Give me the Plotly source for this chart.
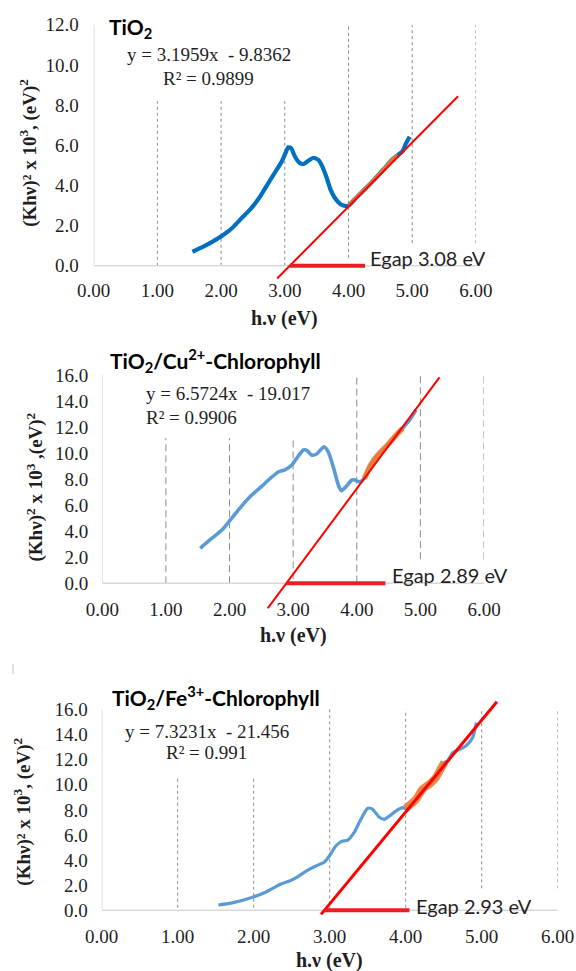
import plotly.graph_objects as go

W, H = 576, 971

# ---------------------------------------------------------------------------
# Tauc-plot data: photon energy h.v (eV) and (Khv)^2 x 10^3 (eV)^2
# ---------------------------------------------------------------------------
tio2_hv = [1.55, 1.72, 1.88, 2.01, 2.17, 2.32, 2.45, 2.61, 2.74, 2.87, 2.95, 3.02,
           3.055, 3.10, 3.16, 3.23, 3.29, 3.37, 3.45, 3.53, 3.59, 3.66, 3.72, 3.79,
           3.87, 3.945, 4.00, 4.13, 4.27, 4.40, 4.54, 4.69, 4.77, 4.85, 4.90, 4.96]
tio2_f = [0.70, 0.95, 1.23, 1.48, 1.87, 2.37, 2.78, 3.44, 4.11, 4.77, 5.18, 5.68,
          5.90, 5.85, 5.43, 5.13, 5.07, 5.23, 5.38, 5.27, 4.94, 4.36, 3.78, 3.36,
          3.08, 2.98, 3.00, 3.42, 3.86, 4.28, 4.77, 5.30, 5.50, 5.72, 6.08, 6.43]

cu_hv = [1.54, 1.69, 1.88, 2.01, 2.16, 2.32, 2.50, 2.64, 2.77, 2.87, 2.98, 3.055,
         3.16, 3.22, 3.29, 3.37, 3.485, 3.55, 3.63, 3.71, 3.76, 3.84, 3.92, 3.96,
         4.04, 4.12, 4.22, 4.33, 4.46, 4.62, 4.72, 4.83, 4.93]
cu_f = [2.69, 3.33, 4.09, 4.86, 5.76, 6.65, 7.42, 8.06, 8.57, 8.72, 9.09, 9.60,
        10.24, 10.19, 9.85, 9.93, 10.49, 10.11, 8.96, 7.55, 7.11, 7.47, 7.93, 7.95,
        7.80, 8.06, 9.09, 9.85, 10.49, 11.39, 11.90, 12.54, 13.31]

fe_hv = [1.535, 1.73, 1.995, 2.17, 2.35, 2.48, 2.56, 2.69, 2.82, 2.93, 2.995, 3.08,
         3.15, 3.24, 3.32, 3.41, 3.50, 3.565, 3.645, 3.72, 3.785, 3.87, 3.96, 4.00,
         4.135, 4.22, 4.31, 4.40, 4.46, 4.51, 4.55, 4.62, 4.68, 4.79, 4.88, 4.93]
fe_f = [0.42, 0.61, 1.06, 1.48, 2.07, 2.35, 2.60, 3.13, 3.53, 3.85, 4.33, 5.12,
        5.47, 5.60, 6.18, 7.25, 8.13, 8.05, 7.46, 7.25, 7.51, 7.91, 8.18, 8.10,
        8.84, 9.64, 10.04, 10.60, 11.26, 11.79, 11.90, 12.56, 12.75, 13.10, 13.75, 14.95]

# Linear fits of the absorption edge and the resulting band gaps
fit_slope = [3.1959, 6.5724, 7.3231]
fit_intercept = [-9.8362, -19.017, -21.456]
fit_r2 = ["0.9899", "0.9906", "0.991"]
egap_ev = [3.08, 2.89, 2.93]

# hv range of the points used for each fit
fit_lo = [3.99, 4.10, 4.00]
fit_hi = [4.78, 4.73, 4.52]

x_tick_vals = [0, 1, 2, 3, 4, 5, 6]
y_ticks_12 = [0, 2, 4, 6, 8, 10, 12]
y_ticks_16 = [0, 2, 4, 6, 8, 10, 12, 14, 16]

SERIF = "Liberation Serif"
SANS = "Lato"
TXT = "#1f1f1f"
AXIS_GREY = "#D9D9D9"
GRID_GREY = "#8C8C8C"
RED = "#FF0000"
ORANGE = "#ED7D31"

# Per-panel geometry (pixels) and styling
panels = [
    dict(hv=tio2_hv, f=tio2_f, yt=y_ticks_12,
         left=93.7, right=475.9, y0=265.8, ytop=24.8, ymin=-0.75, ymax=12.0,
         blue="#0070C0", blue_w=4.2, orange_w=3.5, red_w=2.0,
         tan=(2.88, 5.72), seg_end=4.26, xstand=-4, ystand=14,
         grid=[(1, 0, 8.2), (2, 0, 8.2), (3, 0, 8.2), (4, 0.4, 12), (5, 1.13, 12), (6, 1.13, 12)],
         dash="3px,3px",
         title="<b>TiO<sub>2</sub></b>", title_xy=(106.7, 28.3),
         eq_xy=(208.5, 54.3), r2_xy=(208.5, 78.3), eq_anchor="center",
         egap_xy=(368.3, 257.7), xt_xy=(284.0, 318.3), yt_xy=(28.3, 152.5),
         ytitle="<b>(Khν)² x 10<sup>3</sup>, (eV)<sup>2</sup></b>"),
    dict(hv=cu_hv, f=cu_f, yt=y_ticks_16,
         left=102.3, right=484.0, y0=583.3, ytop=375.0, ymin=-1.95, ymax=16.0,
         blue="#5B9BD5", blue_w=3.6, orange_w=5.5, red_w=2.0,
         tan=(2.60, 5.30), seg_end=4.45, xstand=-13, ystand=13,
         grid=[(1, 0, 11.15), (2, 0, 11.15), (3, 0.3, 11.15), (4, 0.05, 16), (5, 1.85, 16), (6, 1.85, 16)],
         dash="7px,4px",
         title="<b>TiO<sub>2</sub>/Cu<sup>2+</sup>-Chlorophyll</b>", title_xy=(108.3, 360.0),
         eq_xy=(144.3, 393.3), r2_xy=(144.3, 417.3), eq_anchor="left",
         egap_xy=(390.0, 575.0), xt_xy=(293.0, 635.0), yt_xy=(35.0, 487.5),
         ytitle="<b>(Khν)<sup>2</sup> x 10<sup>3</sup> ,(eV)<sup>2</sup></b>"),
    dict(hv=fe_hv, f=fe_f, yt=y_ticks_16,
         left=101.7, right=557.7, y0=910.3, ytop=709.5, ymin=-0.4, ymax=16.8,
         blue="#5B9BD5", blue_w=3.2, orange_w=8.0, red_w=3.0,
         tan=(2.886, 5.20), seg_end=4.05, xstand=8, ystand=13,
         grid=[(1, 0.2, 10.63), (2, 0.2, 10.63), (3, 0, 16), (4, 0.2, 16), (5, 1.75, 16), (6, 1.75, 16)],
         dash="3px,3px",
         title="<b>TiO<sub>2</sub>/Fe<sup>3+</sup>-Chlorophyll</b>", title_xy=(110.0, 697.7),
         eq_xy=(206.7, 731.0), r2_xy=(206.7, 752.7), eq_anchor="center",
         egap_xy=(413.7, 906.0), xt_xy=(329.7, 960.0), yt_xy=(21.7, 812.0),
         ytitle="<b>(Khν)² x 10<sup>3</sup>, (eV)<sup>2</sup></b>"),
]


def px(x):
    return x / W


def py(y):
    return 1 - y / H


fig = go.Figure()
layout = dict(width=W, height=H, margin=dict(l=0, r=0, t=0, b=0, pad=0),
              paper_bgcolor="white", plot_bgcolor="white", showlegend=False)
shapes = []
annotations = []

for i, p in enumerate(panels):
    n = "" if i == 0 else str(i + 1)
    xref, yref = "x" + n, "y" + n
    ymax_tick = p["yt"][-1]
    ppu = (p["y0"] - p["ytop"]) / ymax_tick
    bot_px = p["y0"] - p["ymin"] * ppu
    top_px = p["y0"] - p["ymax"] * ppu

    layout["xaxis" + n] = dict(
        domain=[px(p["left"]), px(p["right"])], range=[0, 6], anchor=yref,
        automargin=False,
        showgrid=False, zeroline=False, showline=False, ticks="",
        tickvals=x_tick_vals, tickformat=".2f", ticklabelstandoff=p["xstand"],
        tickfont=dict(family=SERIF, size=19, color=TXT), fixedrange=True)
    layout["yaxis" + n] = dict(
        domain=[py(bot_px), py(top_px)], range=[p["ymin"], p["ymax"]], anchor=xref,
        automargin=False,
        showgrid=False, zeroline=False, showline=False, ticks="",
        tickvals=p["yt"], tickformat=".1f", ticklabelstandoff=p["ystand"],
        tickfont=dict(family=SERIF, size=19, color=TXT), fixedrange=True)

    # dashed vertical gridlines
    for gx, g0, g1 in p["grid"]:
        shapes.append(dict(type="line", xref=xref, yref=yref, x0=gx, x1=gx, y0=g0, y1=g1,
                           line=dict(color=GRID_GREY, width=1, dash=p["dash"]), layer="below"))
    # axis lines
    shapes.append(dict(type="line", xref=xref, yref=yref, x0=0, x1=0, y0=0, y1=ymax_tick,
                       line=dict(color=AXIS_GREY, width=1.5), layer="below"))
    shapes.append(dict(type="line", xref=xref, yref=yref, x0=0, x1=6, y0=0, y1=0,
                       line=dict(color=AXIS_GREY, width=1.5), layer="below"))

    # measured curve
    fig.add_trace(go.Scatter(x=p["hv"], y=p["f"], mode="lines", xaxis=xref, yaxis=yref,
                             line=dict(color=p["blue"], width=p["blue_w"], shape="spline",
                                       smoothing=0.6),
                             hoverinfo="skip"))
    # points used for the linear fit
    fx = [x for x in p["hv"] if fit_lo[i] <= x <= fit_hi[i]]
    fy = [y for x, y in zip(p["hv"], p["f"]) if fit_lo[i] <= x <= fit_hi[i]]
    fig.add_trace(go.Scatter(x=fx, y=fy, mode="lines", xaxis=xref, yaxis=yref,
                             line=dict(color=ORANGE, width=p["orange_w"], shape="spline",
                                       smoothing=0.6),
                             opacity=0.9, hoverinfo="skip"))
    # extrapolated fit line
    tx = list(p["tan"])
    ty = [fit_slope[i] * x + fit_intercept[i] for x in tx]
    fig.add_trace(go.Scatter(x=tx, y=ty, mode="lines", xaxis=xref, yaxis=yref,
                             line=dict(color=RED, width=p["red_w"]), hoverinfo="skip"))
    # band-gap marker along the energy axis
    fig.add_trace(go.Scatter(x=[egap_ev[i], p["seg_end"]], y=[0, 0], mode="lines",
                             xaxis=xref, yaxis=yref,
                             line=dict(color="#EE1C25", width=4), hoverinfo="skip"))

    # text
    annotations.append(dict(text=p["title"], x=px(p["title_xy"][0]), y=py(p["title_xy"][1]),
                            xref="paper", yref="paper", xanchor="left", yanchor="middle",
                            showarrow=False, font=dict(family=SANS, size=21, color="black")))
    b = fit_intercept[i]
    eq = f"y = {fit_slope[i]}x\u00a0 {'-' if b < 0 else '+'} {abs(b)}"
    annotations.append(dict(text=eq, x=px(p["eq_xy"][0]), y=py(p["eq_xy"][1]),
                            xref="paper", yref="paper", xanchor=p["eq_anchor"], yanchor="middle",
                            showarrow=False, font=dict(family=SERIF, size=19, color=TXT)))
    annotations.append(dict(text=f"R² = {fit_r2[i]}", x=px(p["r2_xy"][0]), y=py(p["r2_xy"][1]),
                            xref="paper", yref="paper", xanchor=p["eq_anchor"], yanchor="middle",
                            showarrow=False, font=dict(family=SERIF, size=19, color=TXT)))
    annotations.append(dict(text=f"Egap {egap_ev[i]:.2f} eV", x=px(p["egap_xy"][0]),
                            y=py(p["egap_xy"][1]), xref="paper", yref="paper",
                            xanchor="left", yanchor="middle", showarrow=False,
                            font=dict(family=SANS, size=20, color=TXT)))
    annotations.append(dict(text="<b>h.ν (eV)</b>", x=px(p["xt_xy"][0]), y=py(p["xt_xy"][1]),
                            xref="paper", yref="paper", xanchor="center", yanchor="middle",
                            showarrow=False, font=dict(family=SERIF, size=20, color=TXT)))
    annotations.append(dict(text=p["ytitle"], x=px(p["yt_xy"][0]), y=py(p["yt_xy"][1]),
                            xref="paper", yref="paper", xanchor="center", yanchor="middle",
                            textangle=-90, showarrow=False,
                            font=dict(family=SERIF, size=19, color=TXT)))

# short grey rule at the upper-left corner of the lower panel
shapes.append(dict(type="line", xref="paper", yref="paper", x0=px(13), x1=px(13),
                   y0=py(664), y1=py(674), line=dict(color=AXIS_GREY, width=1.5)))

layout["shapes"] = shapes
layout["annotations"] = annotations
fig.update_layout(**layout)
fig.write_html("out.html")
